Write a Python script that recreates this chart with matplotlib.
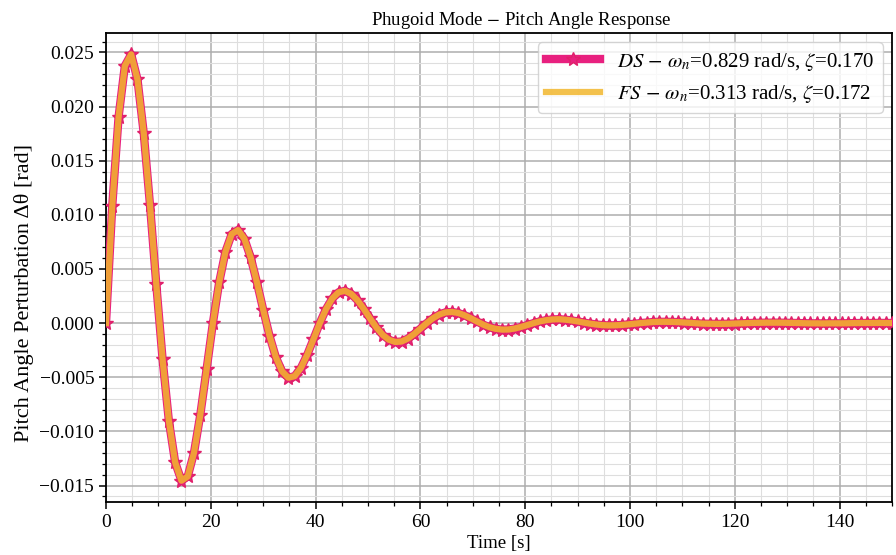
import numpy as np
import matplotlib
matplotlib.use("Agg")
import matplotlib.pyplot as plt
from matplotlib.ticker import MultipleLocator

plt.rcParams["font.family"] = ["Liberation Serif", "DejaVu Serif"]
plt.rcParams["mathtext.fontset"] = "stix"
plt.rcParams["axes.unicode_minus"] = True

# Pitch angle perturbation [rad], sampled every 1.2 s from 0 to 150 s
theta = [
    0.0, 0.01086, 0.01903, 0.02376, 0.02482, 0.02253, 0.01756, 0.01089, 0.00357,
    -0.00335, -0.00903, -0.01286, -0.01455, -0.01416, -0.01196, -0.00846, -0.00426,
    0.0, 0.00376, 0.00659, 0.00823, 0.00859, 0.00780, 0.00608, 0.00377, 0.00124,
    -0.00116, -0.00313, -0.00445, -0.00504, -0.00490, -0.00414, -0.00293, -0.00148,
    0.0, 0.00130, 0.00228, 0.00285, 0.00298, 0.00270, 0.00211, 0.00131, 0.00043,
    -0.00040, -0.00108, -0.00154, -0.00174, -0.00170, -0.00143, -0.00101, -0.00051,
    0.0, 0.00045, 0.00079, 0.00099, 0.00103, 0.00094, 0.00073, 0.00045, 0.00015,
    -0.00014, -0.00038, -0.00053, -0.00060, -0.00059, -0.00050, -0.00035, -0.00018,
    0.0, 0.00016, 0.00027, 0.00034, 0.00036, 0.00032, 0.00025, 0.00016, 0.00005,
    -0.00005, -0.00013, -0.00019, -0.00021, -0.00020, -0.00017, -0.00012, -0.00006,
    0.0, 0.00005, 0.00010, 0.00012, 0.00012, 0.00011, 0.00009, 0.00005, 0.00002,
    -0.00002, -0.00005, -0.00006, -0.00007, -0.00007, -0.00006, -0.00004, -0.00002,
    0.0, 0.00002, 0.00003, 0.00004, 0.00004, 0.00004, 0.00003, 0.00002, 0.00001,
    -0.00001, -0.00002, -0.00002, -0.00003, -0.00002, -0.00002, -0.00002, -0.00001,
    0.0, 0.00001, 0.00001, 0.00001, 0.00002, 0.00001, 0.00001,
]
dt = 1.2
time_s = np.arange(len(theta)) * dt

theta_ds = theta          # dimensional state-space model
theta_fs = theta          # free-system approximation (overlays DS)

label_ds = r"$DS$ $-$ $\omega_n$=0.829 rad/s, $\zeta$=0.170"
label_fs = r"$FS$ $-$ $\omega_n$=0.313 rad/s, $\zeta$=0.172"

fig = plt.figure(figsize=(8.96, 5.55), dpi=100)
ax = fig.add_axes([0.1183, 0.0955, 0.8772, 0.845])

ax.plot(time_s, theta_ds, color="#e8207f", lw=6, marker="*", ms=10,
        mec="#e0206a", label=label_ds, zorder=3)
ax.plot(time_s, theta_fs, color="#f2b62c", lw=4.5, alpha=0.85,
        label=label_fs, zorder=4)

ax.set_xlim(0, 150)
ax.xaxis.set_major_locator(MultipleLocator(20))
ax.xaxis.set_minor_locator(MultipleLocator(5))
ax.yaxis.set_major_locator(MultipleLocator(0.005))
ax.yaxis.set_minor_locator(MultipleLocator(0.001))

ax.grid(which="major", color="#adadad", lw=1.1)
ax.grid(which="minor", color="#dedede", lw=0.8)
ax.set_axisbelow(True)

for s in ax.spines.values():
    s.set_linewidth(1.3)
ax.tick_params(which="major", labelsize=14, length=5, width=1.1)
ax.tick_params(which="minor", length=3, width=0.9)

ax.set_title(r"Phugoid Mode $-$ Pitch Angle Response", fontsize=13.5,
             pad=6, x=0.528)
ax.set_xlabel("Time [s]", fontsize=13.5, labelpad=3)
ax.set_ylabel("Pitch Angle Perturbation Δθ [rad]", fontsize=16)
ax.yaxis.set_label_coords(-0.092, 0.445)

ax.legend(loc="upper right", fontsize=15, framealpha=0.8, edgecolor="#cccccc",
          handlelength=2.6, borderaxespad=0.45)

fig.savefig("out.png", dpi=100)
